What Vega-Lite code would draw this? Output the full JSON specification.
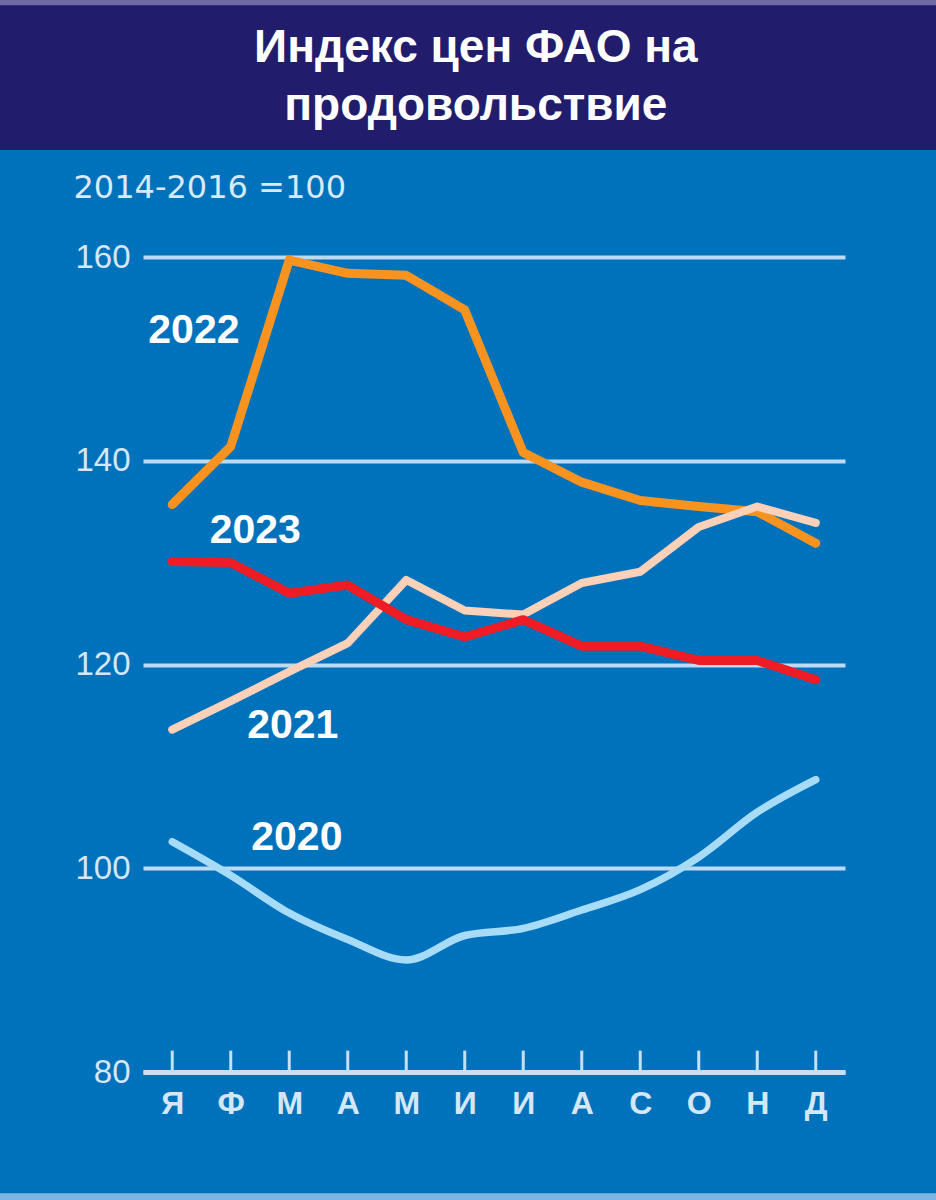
{
  "$schema": "https://vega.github.io/schema/vega-lite/v6.json",
  "width": 702,
  "height": 815,
  "autosize": {"type": "none"},
  "padding": {"left": 143, "top": 257, "right": 91, "bottom": 128},
  "background": "#0072BC",
  "view": {"stroke": null},
  "datasets": {
    "lines": [
      {"year": 2020, "month": 1, "value": 102.6}, {"year": 2020, "month": 2, "value": 99.3}, {"year": 2020, "month": 3, "value": 95.6}, {"year": 2020, "month": 4, "value": 93.0}, {"year": 2020, "month": 5, "value": 91.0}, {"year": 2020, "month": 6, "value": 93.4}, {"year": 2020, "month": 7, "value": 94.1}, {"year": 2020, "month": 8, "value": 95.9}, {"year": 2020, "month": 9, "value": 97.9}, {"year": 2020, "month": 10, "value": 101.1}, {"year": 2020, "month": 11, "value": 105.5}, {"year": 2020, "month": 12, "value": 108.7},
      {"year": 2021, "month": 1, "value": 113.6}, {"year": 2021, "month": 2, "value": 116.4}, {"year": 2021, "month": 3, "value": 119.3}, {"year": 2021, "month": 4, "value": 122.1}, {"year": 2021, "month": 5, "value": 128.3}, {"year": 2021, "month": 6, "value": 125.3}, {"year": 2021, "month": 7, "value": 124.9}, {"year": 2021, "month": 8, "value": 128.0}, {"year": 2021, "month": 9, "value": 129.1}, {"year": 2021, "month": 10, "value": 133.5}, {"year": 2021, "month": 11, "value": 135.5}, {"year": 2021, "month": 12, "value": 133.9},
      {"year": 2022, "month": 1, "value": 135.7}, {"year": 2022, "month": 2, "value": 141.4}, {"year": 2022, "month": 3, "value": 159.7}, {"year": 2022, "month": 4, "value": 158.4}, {"year": 2022, "month": 5, "value": 158.2}, {"year": 2022, "month": 6, "value": 154.8}, {"year": 2022, "month": 7, "value": 140.8}, {"year": 2022, "month": 8, "value": 137.9}, {"year": 2022, "month": 9, "value": 136.1}, {"year": 2022, "month": 10, "value": 135.5}, {"year": 2022, "month": 11, "value": 135.0}, {"year": 2022, "month": 12, "value": 131.9},
      {"year": 2023, "month": 1, "value": 130.1}, {"year": 2023, "month": 2, "value": 130.0}, {"year": 2023, "month": 3, "value": 127.0}, {"year": 2023, "month": 4, "value": 127.8}, {"year": 2023, "month": 5, "value": 124.4}, {"year": 2023, "month": 6, "value": 122.7}, {"year": 2023, "month": 7, "value": 124.4}, {"year": 2023, "month": 8, "value": 121.8}, {"year": 2023, "month": 9, "value": 121.8}, {"year": 2023, "month": 10, "value": 120.4}, {"year": 2023, "month": 11, "value": 120.4}, {"year": 2023, "month": 12, "value": 118.5}
    ],
    "labels": [
      {"label": "2022", "month": 1.37, "value": 151.6},
      {"label": "2023", "month": 2.42, "value": 131.9},
      {"label": "2021", "month": 3.06, "value": 112.8},
      {"label": "2020", "month": 3.13, "value": 101.8}
    ]
  },
  "encoding": {
    "x": {"type": "quantitative", "scale": {"domain": [0.5, 12.5], "nice": false, "zero": false}},
    "y": {"type": "quantitative", "scale": {"domain": [80, 160], "nice": false, "zero": false}}
  },
  "layer": [
    {
      "data": {"values": [{}]},
      "mark": {"type": "rect", "color": "#221C6C"},
      "encoding": {
        "x": {"datum": -3, "type": "quantitative", "axis": {"title": null, "grid": false, "ticks": false, "domain": true, "domainColor": "#C6DFF3", "domainWidth": 5, "values": [1,2,3,4,5,6,7,8,9,10,11,12], "labelExpr": "['Я','Ф','М','А','М','И','И','А','С','О','Н','Д'][datum.value - 1]", "labelFont": "Liberation Sans", "labelFontSize": 32, "labelFontWeight": 600, "labelColor": "#D5E7F6", "labelPadding": 16}},
        "x2": {"datum": 15},
        "y": {"datum": 186, "type": "quantitative", "axis": {"title": "2014-2016 =100", "titleAngle": 0, "titleX": -70, "titleY": -60, "titleAlign": "left", "titleBaseline": "alphabetic", "titleFont": "DejaVu Sans", "titleFontSize": 32, "titleFontWeight": "normal", "titleColor": "#D9E9F7", "values": [80, 100, 120, 140, 160], "grid": true, "gridColor": "#BCDAF2", "gridWidth": 4, "domain": false, "ticks": false, "labelFont": "Liberation Sans", "labelFontSize": 33, "labelColor": "#D5E7F6", "labelPadding": 13}},
        "y2": {"datum": 170.5}
      }
    },
    {
      "data": {"values": [{}]},
      "mark": {"type": "rect", "color": "#6D6AA6"},
      "encoding": {
        "x": {"datum": -3, "type": "quantitative"},
        "x2": {"datum": 15},
        "y": {"datum": 186, "type": "quantitative"},
        "y2": {"datum": 184.7}
      }
    },
    {
      "data": {"values": [{}]},
      "mark": {"type": "rect", "color": "#7DB6E2"},
      "encoding": {
        "x": {"datum": -3, "type": "quantitative"},
        "x2": {"datum": 15},
        "y": {"datum": 68.1, "type": "quantitative"},
        "y2": {"datum": 66}
      }
    },
    {
      "data": {"values": [{}]},
      "mark": {"type": "text", "text": ["Индекс цен ФАО на", "продовольствие"], "font": "Liberation Sans", "fontWeight": "bold", "fontSize": 46, "lineHeight": 58, "color": "#FFFFFF", "align": "center", "baseline": "alphabetic"},
      "encoding": {
        "x": {"datum": 6.19, "type": "quantitative"},
        "y": {"datum": 179.1, "type": "quantitative"}
      }
    },
    {
      "data": {"name": "lines"},
      "transform": [{"filter": "datum.year == 2020"}],
      "mark": {"type": "rule", "color": "#C6DFF3", "strokeWidth": 3},
      "encoding": {
        "x": {"field": "month", "type": "quantitative"},
        "y": {"datum": 80, "type": "quantitative"},
        "y2": {"datum": 82.1}
      }
    },
    {
      "data": {"name": "lines"},
      "transform": [{"filter": "datum.year == 2020"}],
      "mark": {"type": "line", "color": "#A6DCF7", "strokeWidth": 7.5, "interpolate": "monotone", "strokeCap": "round", "strokeJoin": "round"},
      "encoding": {
        "x": {"field": "month", "type": "quantitative"},
        "y": {"field": "value", "type": "quantitative"}
      }
    },
    {
      "data": {"name": "lines"},
      "transform": [{"filter": "datum.year == 2022"}],
      "mark": {"type": "line", "color": "#F7931E", "strokeWidth": 9, "strokeCap": "round", "strokeJoin": "round"},
      "encoding": {
        "x": {"field": "month", "type": "quantitative"},
        "y": {"field": "value", "type": "quantitative"}
      }
    },
    {
      "data": {"name": "lines"},
      "transform": [{"filter": "datum.year == 2021"}],
      "mark": {"type": "line", "color": "#FDD1B8", "strokeWidth": 8, "strokeCap": "round", "strokeJoin": "round"},
      "encoding": {
        "x": {"field": "month", "type": "quantitative"},
        "y": {"field": "value", "type": "quantitative"}
      }
    },
    {
      "data": {"name": "lines"},
      "transform": [{"filter": "datum.year == 2023"}],
      "mark": {"type": "line", "color": "#EE1C25", "strokeWidth": 9, "strokeCap": "round", "strokeJoin": "round"},
      "encoding": {
        "x": {"field": "month", "type": "quantitative"},
        "y": {"field": "value", "type": "quantitative"}
      }
    },
    {
      "data": {"name": "labels"},
      "mark": {"type": "text", "font": "Liberation Sans", "fontWeight": "bold", "fontSize": 41, "color": "#FFFFFF", "align": "center", "baseline": "alphabetic"},
      "encoding": {
        "x": {"field": "month", "type": "quantitative"},
        "y": {"field": "value", "type": "quantitative"},
        "text": {"field": "label"}
      }
    }
  ]
}
